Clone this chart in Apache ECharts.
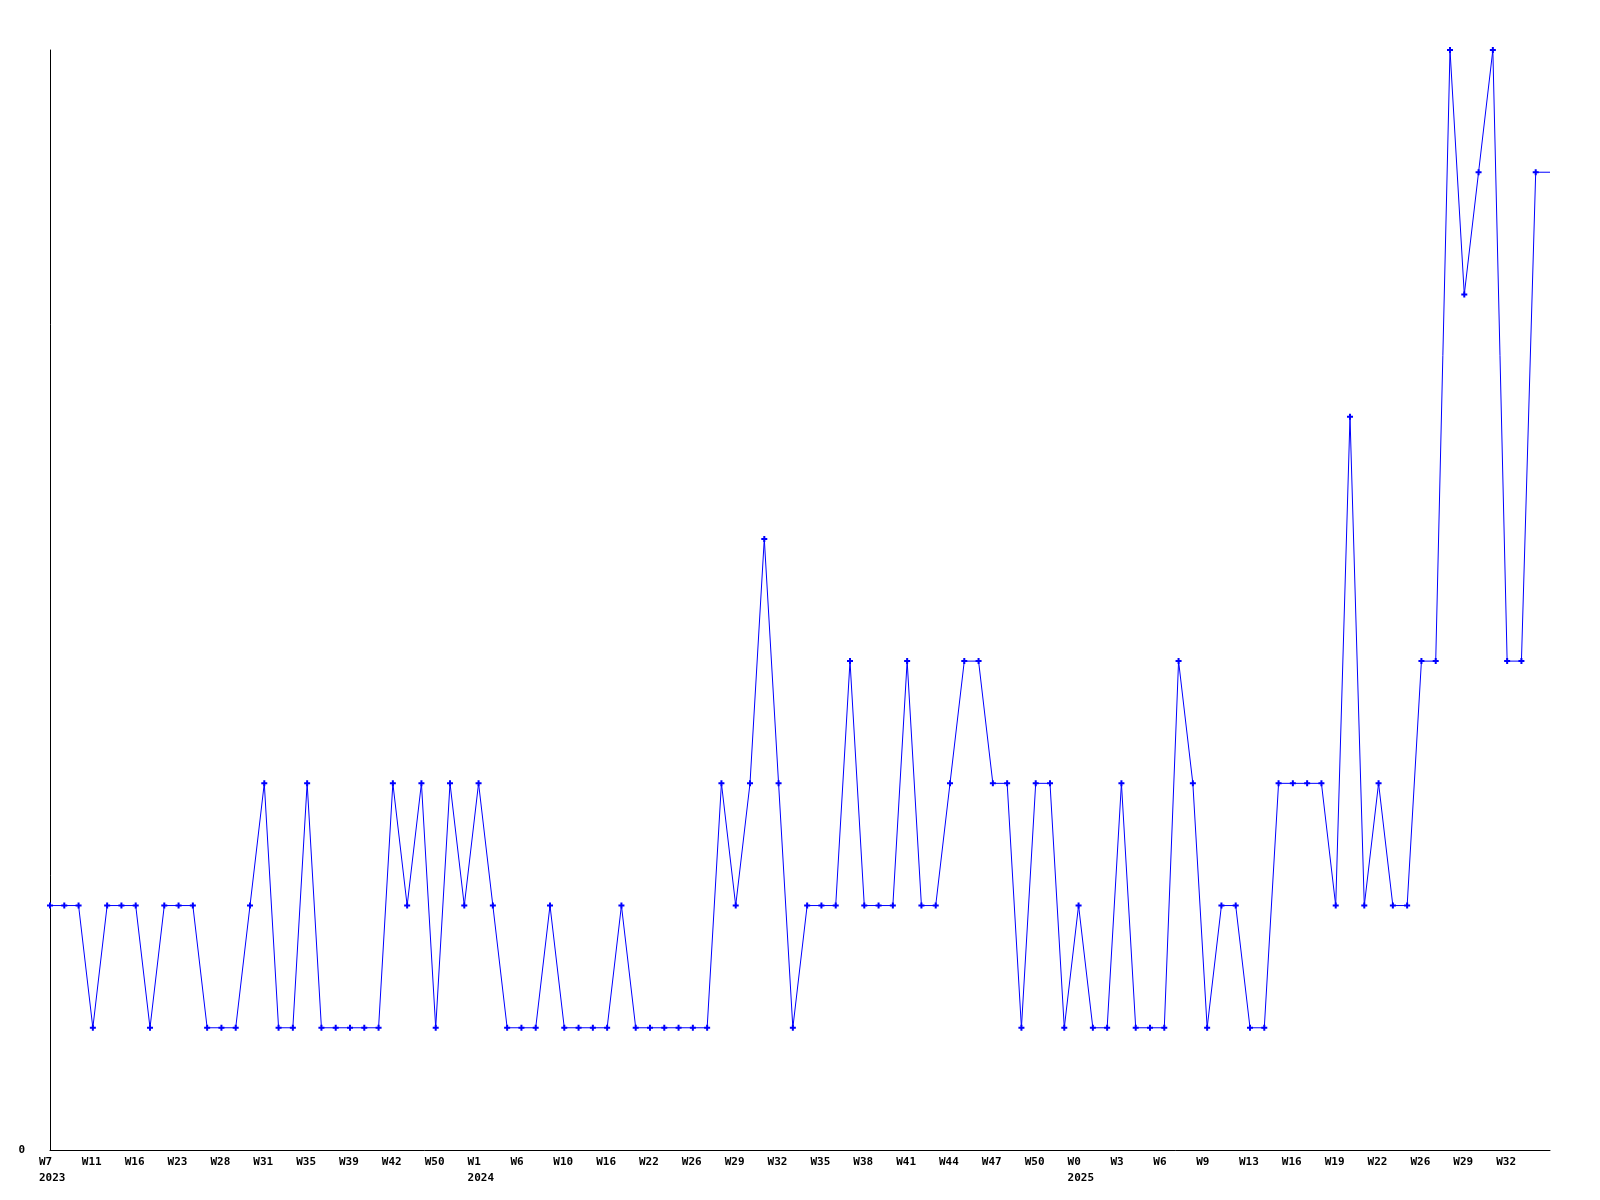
<!DOCTYPE html>
<html>
<head>
<meta charset="utf-8">
<script src="https://cdn.jsdelivr.net/npm/echarts@6/dist/echarts.min.js"></script>
<style>
  html, body { margin: 0; padding: 0; background: #ffffff; }
  #chart { width: 1600px; height: 1200px; }
</style>
</head>
<body>
<div id="chart"></div>
<script>
// Week labels shown under every third point
const tickLabels = ['W7','W11','W16','W23','W28','W31','W35','W39','W42','W50',
  'W1','W6','W10','W16','W22','W26','W29','W32','W35','W38','W41','W44','W47','W50',
  'W0','W3','W6','W9','W13','W16','W19','W22','W26','W29','W32'];
// Year labels: [point index, year]
const yearLabels = [[0, '2023'], [30, '2024'], [72, '2025']];
// Series values, one per point
const values = [
  2,2,2,1,2,2,2,1,2,2,
  2,1,1,1,2,3,1,1,3,1,
  1,1,1,1,3,2,3,1,3,2,
  3,2,1,1,1,2,1,1,1,1,
  2,1,1,1,1,1,1,3,2,3,
  5,3,1,2,2,2,4,2,2,2,
  4,2,2,3,4,4,3,3,1,3,
  3,1,2,1,1,3,1,1,1,4,
  3,1,2,2,1,1,3,3,3,3,
  2,6,2,3,2,2,4,4,9,7,
  8,9,4,4,8,8
];
const labelStep = 3;

const categories = values.map((v, i) => {
  if (i % labelStep !== 0) return '';
  const k = i / labelStep;
  const w = tickLabels[k] || '';
  if (!w) return '';
  const y = yearLabels.find(p => p[0] === i);
  return y ? w + '\n' + y[1] : w;
});

const seriesData = values.map((v, i) =>
  i === values.length - 1 ? { value: v, symbol: 'none' } : v
);

const chart = echarts.init(document.getElementById('chart'), null, { renderer: 'canvas' });
const fontFam = '"DejaVu Sans Mono", "Liberation Mono", monospace';
chart.setOption({
  animation: false,
  backgroundColor: '#ffffff',
  grid: { left: 50, right: 50, top: 50, bottom: 50, containLabel: false },
  xAxis: {
    type: 'category',
    data: categories,
    boundaryGap: false,
    axisLine: { show: true, lineStyle: { color: '#000000', width: 1 } },
    axisTick: { show: false },
    splitLine: { show: false },
    axisLabel: {
      interval: labelStep - 1,
      margin: 4,
      formatter: function (val) {
        if (!val) return '';
        return val.split('\n').map(s => '{a|' + s + '}').join('\n');
      },
      rich: {
        a: {
          width: 22, align: 'left', fontFamily: fontFam, fontWeight: 'bold',
          fontSize: 11, lineHeight: 16, color: '#000000'
        }
      }
    }
  },
  yAxis: {
    type: 'value',
    min: 0,
    max: 9,
    interval: 9,
    axisLine: { show: true, lineStyle: { color: '#000000', width: 1 } },
    axisTick: { show: false },
    splitLine: { show: false },
    axisLabel: {
      margin: 25,
      fontFamily: fontFam,
      fontWeight: 'bold',
      fontSize: 11,
      color: '#000000',
      formatter: v => (v === 0 ? '0' : '')
    }
  },
  series: [{
    type: 'line',
    data: seriesData,
    showAllSymbol: true,
    symbol: 'path://M2,0H4V2H6V4H4V6H2V4H0V2H2Z',
    symbolSize: 6,
    lineStyle: { color: '#0000ff', width: 1 },
    itemStyle: { color: '#0000ff' },
    clip: false
  }]
});
</script>
</body>
</html>
